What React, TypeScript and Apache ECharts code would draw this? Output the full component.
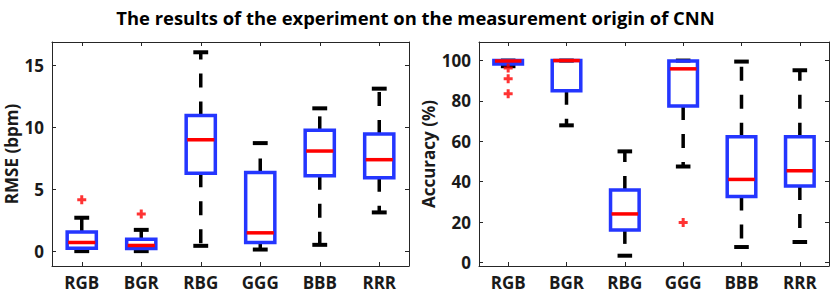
import React, { useEffect, useRef } from 'react';
import * as echarts from 'echarts';

const categories = ['RGB', 'BGR', 'RBG', 'GGG', 'BBB', 'RRR'];

// [low whisker, Q1, median, Q3, high whisker]
const rmseBoxes = [
  [0, 0.24, 0.7, 1.54, 2.7],
  [0, 0.22, 0.46, 0.97, 1.72],
  [0.43, 6.3, 9.0, 10.97, 16.07],
  [0.13, 0.7, 1.48, 6.36, 8.73],
  [0.51, 6.09, 8.09, 9.76, 11.54],
  [3.13, 5.93, 7.39, 9.46, 13.13],
];
const rmseOutliers = [
  [0, 4.15],
  [1, 3.0],
];

const accBoxes = [
  [97.2, 98.3, 99.8, 100, 100],
  [67.9, 85.1, 100, 100, 100],
  [3.3, 16.1, 24, 35.8, 55],
  [47.5, 77.5, 95.9, 99.8, 100],
  [7.6, 32.6, 41.1, 62.3, 99.5],
  [10.1, 37.9, 45.4, 62.3, 95.2],
];
const accOutliers = [
  [0, 96.3],
  [0, 91.0],
  [0, 83.5],
  [3, 19.7],
];

const rmseTicks = [0, 5, 10, 15];
const accTicks = [0, 20, 40, 60, 80, 100];

const FONT = 'Open Sans';
const AXIS_COLOR = '#262626';
const BLUE = '#2436ff';
const RED = '#ff0000';
const PLUS = 'path://M3,0H6V3H9V6H6V9H3V6H0V3H3Z';

function renderBox(params: any, api: any) {
  const i = api.value(0);
  const low = api.value(1);
  const q1 = api.value(2);
  const med = api.value(3);
  const q3 = api.value(4);
  const high = api.value(5);
  const band = api.size([1, 0])[0];
  const bw = band * 0.49;
  const cw = band * 0.25;
  const x = api.coord([i, q1])[0];
  const yLow = api.coord([i, low])[1];
  const yQ1 = api.coord([i, q1])[1];
  const yMed = api.coord([i, med])[1];
  const yQ3 = api.coord([i, q3])[1];
  const yHigh = api.coord([i, high])[1];
  const wStyle = { stroke: '#000', lineWidth: 3.5, lineDash: [14, 14], fill: null };
  const cStyle = { stroke: '#000', lineWidth: 4, fill: null };
  return {
    type: 'group',
    children: [
      { type: 'line', shape: { x1: x, y1: yQ3, x2: x, y2: yHigh }, style: wStyle },
      { type: 'line', shape: { x1: x, y1: yQ1, x2: x, y2: yLow }, style: wStyle },
      { type: 'line', shape: { x1: x - cw / 2, y1: yHigh, x2: x + cw / 2, y2: yHigh }, style: cStyle },
      { type: 'line', shape: { x1: x - cw / 2, y1: yLow, x2: x + cw / 2, y2: yLow }, style: cStyle },
      {
        type: 'rect',
        shape: { x: x - bw / 2, y: yQ3, width: bw, height: yQ1 - yQ3 },
        style: { stroke: BLUE, lineWidth: 3.5, fill: 'rgba(0,0,0,0)' },
      },
      {
        type: 'line',
        shape: { x1: x - bw / 2 + 1, y1: yMed, x2: x + bw / 2 - 1, y2: yMed },
        style: { stroke: RED, lineWidth: 3.5 },
      },
    ],
  };
}

function axesFor(grid: number, min: number, max: number, ticks: number[], name: string, nameGap: number) {
  const line = { onZero: false, lineStyle: { color: AXIS_COLOR, width: 1 } };
  const xs = [
    {
      gridIndex: grid,
      type: 'category',
      data: categories,
      position: 'bottom',
      boundaryGap: true,
      axisLine: line,
      axisTick: { show: true, inside: true, alignWithLabel: true, length: 4, lineStyle: { color: AXIS_COLOR } },
      axisLabel: { show: true, margin: 7.5, color: '#1a1a1a', fontFamily: FONT, fontWeight: 'bold', fontSize: 17 },
      splitLine: { show: false },
    },
    {
      gridIndex: grid,
      type: 'category',
      data: categories,
      position: 'top',
      boundaryGap: true,
      axisLine: line,
      axisTick: { show: true, inside: true, alignWithLabel: true, length: 4, lineStyle: { color: AXIS_COLOR } },
      axisLabel: { show: false },
      splitLine: { show: false },
    },
  ];
  const ys = [
    {
      gridIndex: grid,
      type: 'value',
      position: 'left',
      min,
      max,
      name,
      nameLocation: 'middle',
      nameGap,
      nameRotate: 90,
      nameTextStyle: { color: '#1a1a1a', fontFamily: FONT, fontWeight: 'bold', fontSize: 17 },
      axisLine: { show: true, ...line },
      axisTick: { show: true, inside: true, length: 4, customValues: ticks, lineStyle: { color: AXIS_COLOR } },
      axisLabel: { show: true, margin: 8, customValues: ticks, color: '#1a1a1a', fontFamily: FONT, fontWeight: 'bold', fontSize: 17 },
      splitLine: { show: false },
    },
    {
      gridIndex: grid,
      type: 'value',
      position: 'right',
      min,
      max,
      axisLine: { show: true, ...line },
      axisTick: { show: true, inside: true, length: 4, customValues: ticks, lineStyle: { color: AXIS_COLOR } },
      axisLabel: { show: false },
      splitLine: { show: false },
    },
  ];
  return { xs, ys };
}

export default function App() {
  const ref = useRef<HTMLDivElement>(null);
  useEffect(() => {
    if (!ref.current) return;
    const chart = echarts.init(ref.current, null, { renderer: 'svg' });
    const a = axesFor(0, -1.2, 16.9, rmseTicks, 'RMSE (bpm)', 32);
    const b = axesFor(1, -1.8, 109.2, accTicks, 'Accuracy (%)', 42);
    const boxData = (boxes: number[][]) => boxes.map((v, i) => [i, ...v]);
    chart.setOption({
      animation: false,
      backgroundColor: '#fff',
      title: {
        text: 'The results of the experiment on the measurement origin of CNN',
        left: 'center',
        top: 3,
        textStyle: { fontFamily: FONT, fontWeight: 'bold', fontSize: 18.4, color: '#000' },
      },
      grid: [
        { left: 52, top: 42, width: 357, height: 224, containLabel: false },
        { left: 479, top: 42, width: 350, height: 224, containLabel: false },
      ],
      xAxis: [...a.xs, ...b.xs],
      yAxis: [...a.ys, ...b.ys],
      series: [
        {
          type: 'custom',
          xAxisIndex: 0,
          yAxisIndex: 0,
          renderItem: renderBox,
          encode: { x: 0, y: [1, 2, 3, 4, 5] },
          data: boxData(rmseBoxes),
          clip: false,
        },
        {
          type: 'scatter',
          xAxisIndex: 0,
          yAxisIndex: 0,
          symbol: PLUS,
          symbolSize: 9,
          itemStyle: { color: RED },
          data: rmseOutliers,
        },
        {
          type: 'custom',
          xAxisIndex: 2,
          yAxisIndex: 2,
          renderItem: renderBox,
          encode: { x: 0, y: [1, 2, 3, 4, 5] },
          data: boxData(accBoxes),
          clip: false,
        },
        {
          type: 'scatter',
          xAxisIndex: 2,
          yAxisIndex: 2,
          symbol: PLUS,
          symbolSize: 9,
          itemStyle: { color: RED },
          data: accOutliers,
        },
      ],
    });
    return () => chart.dispose();
  }, []);
  return <div ref={ref} style={{ position: 'fixed', left: 0, top: 0, width: 831, height: 294 }} />;
}
